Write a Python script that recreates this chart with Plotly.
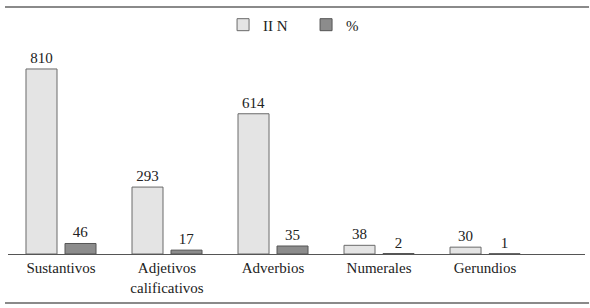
import plotly.graph_objects as go

categories = ["Sustantivos", "Adjetivos<br>calificativos", "Adverbios", "Numerales", "Gerundios"]
n_values = [810, 293, 614, 38, 30]
pct_values = [46, 17, 35, 2, 1]

FONT = "Liberation Serif"
FS = 15

fig = go.Figure()
fig.add_trace(go.Bar(
    x=list(range(len(categories))), y=n_values, name="II N",
    marker=dict(color="#e4e4e4", line=dict(color="#6a6a6a", width=1)),
    text=[str(v) for v in n_values], textposition="outside",
    textfont=dict(family=FONT, size=FS, color="#222"), cliponaxis=False,
))
fig.add_trace(go.Bar(
    x=list(range(len(categories))), y=pct_values, name="%",
    marker=dict(color="#8c8c8c", line=dict(color="#555", width=1)),
    text=[str(v) for v in pct_values], textposition="outside",
    textfont=dict(family=FONT, size=FS, color="#222"), cliponaxis=False,
))

fig.update_layout(
    width=590, height=308,
    margin=dict(l=8, r=5, t=45, b=54),
    paper_bgcolor="white", plot_bgcolor="white",
    barmode="group", bargap=0.264, bargroupgap=0.205,
    font=dict(family=FONT, size=FS, color="#222"),
    showlegend=True,
    legend=dict(orientation="h", x=0.3727, xanchor="left", y=1.096, yanchor="middle",
                font=dict(family=FONT, size=FS, color="#222"),
                entrywidth=38, traceorder="normal"),
    xaxis=dict(range=[-0.5, 4.943], tickmode="array",
               tickvals=list(range(len(categories))), ticktext=categories,
               showline=True, linecolor="#555", linewidth=1, ticks="",
               showgrid=False, zeroline=False, fixedrange=True,
               tickfont=dict(family=FONT, size=FS, color="#222")),
    yaxis=dict(range=[0, 915], visible=False, showgrid=False, zeroline=False),
    shapes=[
        dict(type="line", xref="paper", yref="paper", x0=-0.0052, x1=1.007,
             y0=1.1818, y1=1.1818, line=dict(color="#8a8a8a", width=2)),
        dict(type="line", xref="paper", yref="paper", x0=-0.0052, x1=1.007,
             y0=-0.2344, y1=-0.2344, line=dict(color="#8a8a8a", width=2)),
    ],
)

fig.write_html("out.html", config={"displayModeBar": False},
               post_script="document.body.style.margin='0';")
